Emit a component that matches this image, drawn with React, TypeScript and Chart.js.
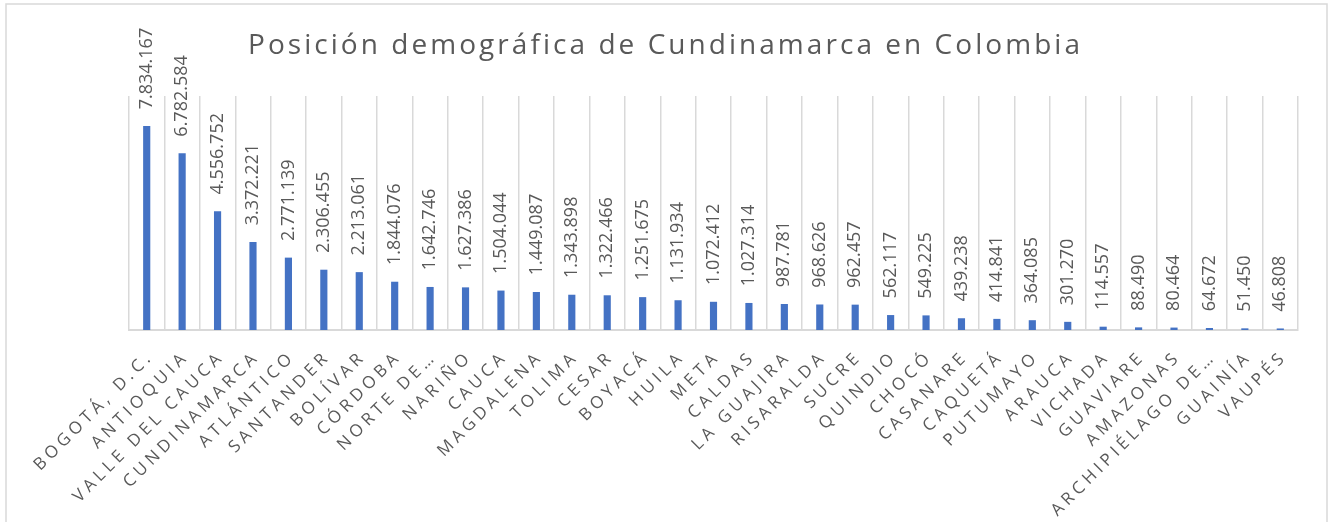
import React, { useEffect, useRef } from "react";
import { Chart, registerables } from "chart.js";

Chart.register(...registerables);

const TITLE = "Posición demográfica de Cundinamarca en Colombia";

const categories: string[] = [
  "BOGOTÁ, D.C.",
  "ANTIOQUIA",
  "VALLE DEL CAUCA",
  "CUNDINAMARCA",
  "ATLÁNTICO",
  "SANTANDER",
  "BOLÍVAR",
  "CÓRDOBA",
  "NORTE DE…",
  "NARIÑO",
  "CAUCA",
  "MAGDALENA",
  "TOLIMA",
  "CESAR",
  "BOYACÁ",
  "HUILA",
  "META",
  "CALDAS",
  "LA GUAJIRA",
  "RISARALDA",
  "SUCRE",
  "QUINDIO",
  "CHOCÓ",
  "CASANARE",
  "CAQUETÁ",
  "PUTUMAYO",
  "ARAUCA",
  "VICHADA",
  "GUAVIARE",
  "AMAZONAS",
  "ARCHIPIÉLAGO DE…",
  "GUAINÍA",
  "VAUPÉS",
];

const population: number[] = [
  7834167, 6782584, 4556752, 3372221, 2771139, 2306455, 2213061, 1844076,
  1642746, 1627386, 1504044, 1449087, 1343898, 1322466, 1251675, 1131934,
  1072412, 1027314, 987781, 968626, 962457, 562117, 549225, 439238, 414841,
  364085, 301270, 114557, 88490, 80464, 64672, 51450, 46808,
];

const Y_MIN = 0;
const Y_MAX = 9000000;

const TEXT_COLOR = "#595959";
const BAR_COLOR = "#4472C4";
const GRID_COLOR = "#d9d9d9";

function fmt(n: number): string {
  return String(n).replace(/\B(?=(\d{3})+(?!\d))/g, ".");
}

const decorPlugin = {
  id: "decor",
  beforeDraw(chart: any) {
    const ctx = chart.ctx as CanvasRenderingContext2D;
    ctx.save();
    ctx.fillStyle = "#ffffff";
    ctx.fillRect(0, 0, chart.width, chart.height);
    ctx.strokeStyle = GRID_COLOR;
    ctx.lineWidth = 1.5;
    ctx.strokeRect(6, 4, 1321, 560);
    ctx.restore();
  },
  afterDraw(chart: any) {
    const ctx = chart.ctx as CanvasRenderingContext2D;
    const meta = chart.getDatasetMeta(0);
    const xs = chart.scales.x;
    const area = chart.chartArea;
    ctx.save();
    ctx.fillStyle = TEXT_COLOR;

    // Title with wide character spacing
    ctx.font = "28px 'Open Sans'";
    (ctx as any).letterSpacing = "0px";
    const titleTarget = 832;
    const w0 = ctx.measureText(TITLE).width;
    const sp = (titleTarget - w0) / (TITLE.length - 1);
    (ctx as any).letterSpacing = sp + "px";
    ctx.textAlign = "left";
    ctx.textBaseline = "alphabetic";
    ctx.fillText(TITLE, chart.width / 2 - titleTarget / 2, 54);

    // Value labels, rotated
    ctx.font = "18px 'Open Sans'";
    (ctx as any).letterSpacing = "0px";
    ctx.textAlign = "left";
    ctx.textBaseline = "middle";
    meta.data.forEach((bar: any, i: number) => {
      ctx.save();
      ctx.translate(bar.x, bar.y - 17);
      ctx.rotate(-Math.PI / 2);
      ctx.fillText(fmt(population[i]), 0, 0);
      ctx.restore();
    });

    // Category labels, rotated -45°
    ctx.font = "17px 'Open Sans'";
    (ctx as any).letterSpacing = "4.2px";
    ctx.textAlign = "right";
    ctx.textBaseline = "middle";
    categories.forEach((c, i) => {
      const x = xs.getPixelForValue(i);
      ctx.save();
      ctx.translate(x + 4, area.bottom + 24);
      ctx.rotate(-Math.PI / 4);
      ctx.fillText(c, 0, 0);
      ctx.restore();
    });
    ctx.restore();
  },
};

export default function App() {
  const ref = useRef<HTMLCanvasElement | null>(null);
  useEffect(() => {
    document.body.style.margin = "0";
    const chart = new Chart(ref.current as HTMLCanvasElement, {
      type: "bar",
      data: {
        labels: categories,
        datasets: [
          {
            data: population,
            backgroundColor: BAR_COLOR,
            barThickness: 6.5,
          },
        ],
      },
      options: {
        animation: false,
        responsive: false,
        maintainAspectRatio: false,
        layout: { padding: { left: 129, right: 30, top: 96, bottom: 192 } },
        plugins: {
          legend: { display: false },
          title: { display: false },
          tooltip: { enabled: false },
        },
        scales: {
          x: {
            offset: true,
            grid: {
              display: true,
              offset: true,
              color: GRID_COLOR,
              lineWidth: 1.5,
              drawTicks: false,
            },
            border: { display: true, color: GRID_COLOR, width: 2 },
            ticks: { display: false },
          },
          y: {
            display: false,
            min: Y_MIN,
            max: Y_MAX,
          },
        },
      },
      plugins: [decorPlugin],
    });
    return () => chart.destroy();
  }, []);
  return (
    <div style={{ width: 1328, height: 522 }}>
      <canvas ref={ref} width={1328} height={522} style={{ display: "block" }} />
    </div>
  );
}
